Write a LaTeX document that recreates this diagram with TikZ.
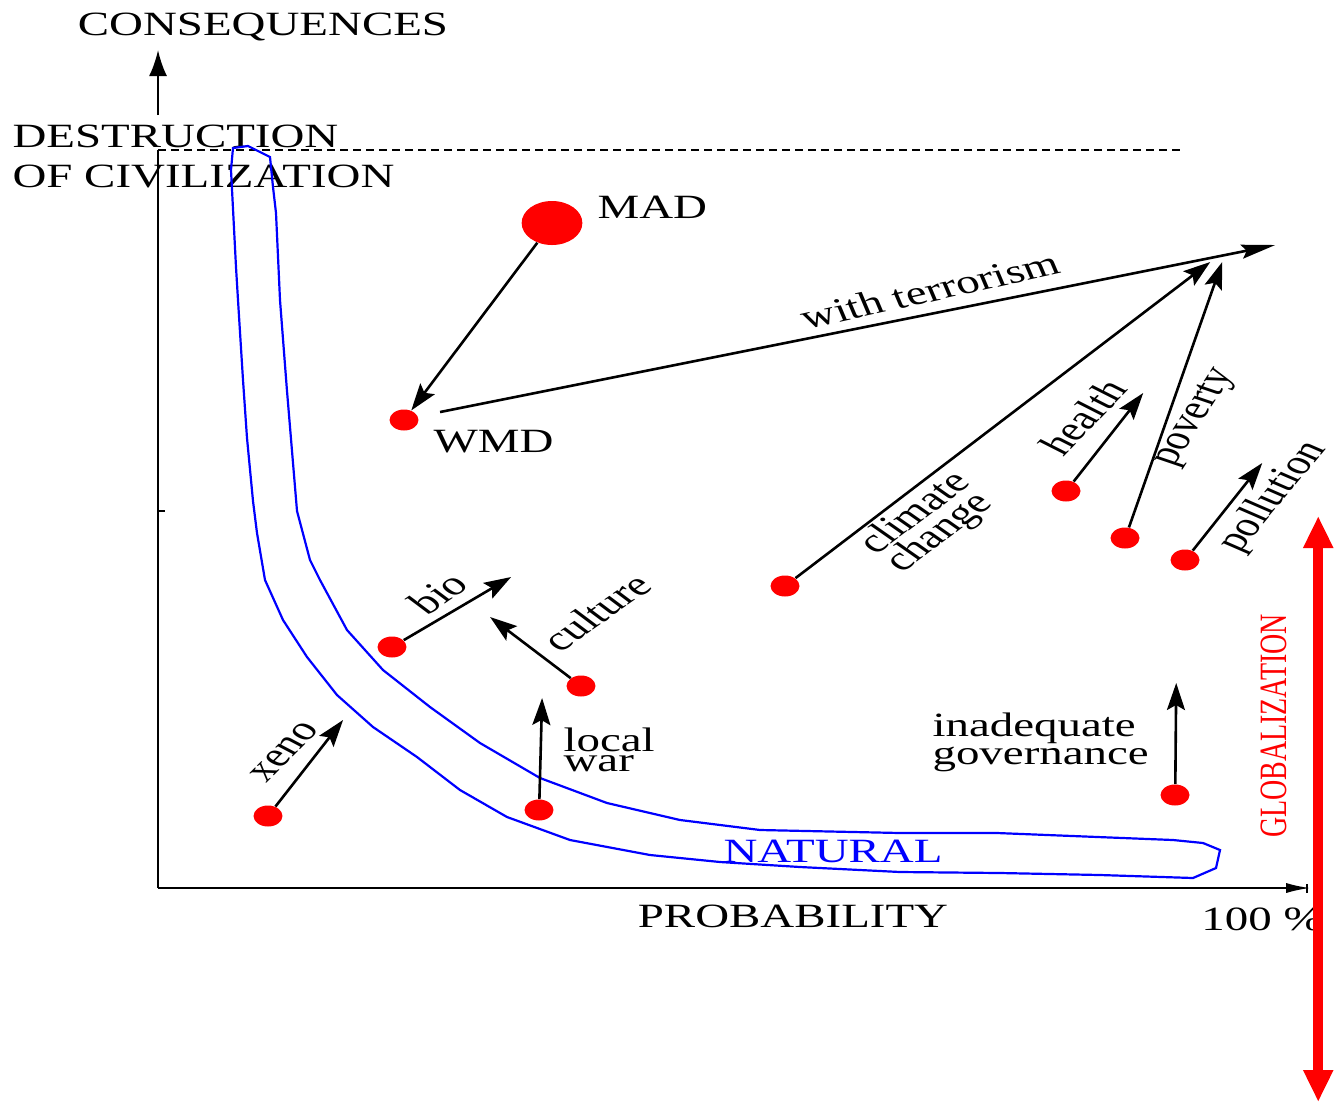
\documentclass[tikz,border=0pt]{standalone}
\usepackage{fontspec}
\setmainfont{Liberation Serif}
\usetikzlibrary{arrows.meta}

\tikzset{
  riskdot/.style={circle, fill=red, inner sep=0pt, minimum size=10.5pt, transform shape},
  bigdot/.style={riskdot, minimum size=22pt},
  txt/.style={inner sep=0pt, transform shape, font=\fontsize{17}{17}\selectfont},
  riskarrow/.style={-{Stealth[length=13.5pt,width=9pt,inset=2.5pt]}, line width=1.3pt},
}

\begin{document}
\begin{tikzpicture}[xscale=1.38, x=0.36232pt, y=-0.5pt]

    % Page of the same size as the reference (pixel units, y pointing down)
    \useasboundingbox (0,0) rectangle (1340,1105);

    % Corners and ends of the two axes
    \coordinate (O) at (158,888);
    \coordinate (ybreak) at (158,150);
    \coordinate (yarrow) at (158,115);
    \coordinate (ytop) at (158,50);
    \coordinate (xend) at (1310,888);

    % Draw the axes
    \draw[line width=1pt] (O) -- (ybreak);
    \draw[line width=1.2pt, -{Latex[length=13pt,width=9pt]}] (yarrow) -- (ytop);
    \draw[line width=1pt, -{Latex[length=12pt,width=5pt]}] (O) -- (xend);
    \draw[line width=0.6pt] (1307,884) -- (1307,893);
    \draw[line width=0.8pt] (158,511) -- (165,511);

    % Dashed level: destruction of civilization
    \draw[line width=0.8pt, dash pattern=on 4pt off 2.5pt] (ybreak) -- (1185,150);

    % Axis texts
    \node[txt, anchor=base] (conseq) at (263,35) {CONSEQUENCES};
    \node[txt, anchor=base west] (destr) at (12,147) {DESTRUCTION};
    \node[txt, anchor=base west] (civil) at (12,187) {OF CIVILIZATION};
    \node[txt, anchor=base] (prob) at (793,927) {PROBABILITY};
    \node[txt, anchor=base] (hundred) at (1262,930) {100 \%};

    % The band of natural risks
    \draw[blue, line width=1.1pt] (233,148) -- (231,170) -- (236,267) -- (238,300)
        -- (243,380) -- (247,438) -- (253,501) -- (257,533) -- (265,580)
        -- (283,620) -- (307,657) -- (337,695) -- (373,727) -- (417,757)
        -- (460,790) -- (507,817) -- (570,840) -- (650,855) -- (720,862)
        -- (800,867) -- (900,872) -- (1000,873) -- (1100,875) -- (1193,878)
        -- (1216,868) -- (1220,850) -- (1203,843) -- (1173,840) -- (997,833)
        -- (900,833) -- (760,830) -- (680,820) -- (607,803) -- (540,778)
        -- (480,743) -- (430,707) -- (383,670) -- (347,630) -- (320,580)
        -- (310,560) -- (297,511) -- (287,391) -- (280,300) -- (276,213)
        -- (273,187) -- (270,157) -- (248,146) -- cycle;
    \node[txt, blue, anchor=base] (natural) at (833,862) {NATURAL};

    % Globalization
    \coordinate (globtop) at (1318,516);
    \coordinate (globbot) at (1318,1102);
    \draw[red, line width=4.8pt, {Triangle[length=16pt,width=14pt]}-{Triangle[length=16pt,width=14pt]}] (globbot) -- (globtop);
    \node[txt, red, rotate=90, font=\fontsize{14}{14}\selectfont] (glob) at (1274,726) {GLOBALIZATION};

    % Risks (red dots)
    \node[bigdot] (mad) at (552,223) {};
    \node[riskdot] (wmd) at (404,420) {};
    \node[riskdot] (xeno) at (268,816) {};
    \node[riskdot] (bio) at (392,647) {};
    \node[riskdot] (culture) at (581,686) {};
    \node[riskdot] (localwar) at (539,810) {};
    \node[riskdot] (climate) at (785,586) {};
    \node[riskdot] (health) at (1066,491) {};
    \node[riskdot] (poverty) at (1125,538) {};
    \node[riskdot] (pollution) at (1185,560) {};
    \node[riskdot] (governance) at (1175,795) {};

    % Free ends of the arrows
    \coordinate (terr0) at (440,412);
    \coordinate (terr1) at (1275,245);
    \coordinate (climate1) at (1210,262);
    \coordinate (health1) at (1143,393);
    \coordinate (poverty1) at (1222,262);
    \coordinate (pollution1) at (1262,463);
    \coordinate (bio1) at (511,577);
    \coordinate (culture1) at (490,617);
    \coordinate (xeno1) at (343,720);
    \coordinate (localwar1) at (542,698);
    \coordinate (governance1) at (1176,683);

    % Arrows: where each risk moves
    \draw[riskarrow] (mad) -- (wmd);
    \draw[riskarrow, -{Stealth[length=17pt,width=7pt,inset=2.5pt]}] (terr0) -- (terr1);
    \draw[riskarrow] (climate) -- (climate1);
    \draw[riskarrow] (health) -- (health1);
    \draw[riskarrow] (poverty) -- (poverty1);
    \draw[riskarrow] (pollution) -- (pollution1);
    \draw[riskarrow] (bio) -- (bio1);
    \draw[riskarrow] (culture) -- (culture1);
    \draw[riskarrow] (xeno) -- (xeno1);
    \draw[riskarrow] (localwar) -- (localwar1);
    \draw[riskarrow] (governance) -- (governance1);

    % Labels of the risks
    \node[txt, anchor=base west] (madlbl) at (597,218) {MAD};
    \node[txt, anchor=base west] (wmdlbl) at (433,452) {WMD};
    \node[txt, rotate=17] (terrlbl) at (930,290) {with terrorism};
    \node[txt, rotate=46, align=left, font=\fontsize{17}{13}\selectfont] (climatelbl) at (929,523) {climate\\change};
    \node[txt, rotate=55] (healthlbl) at (1083,417) {health};
    \node[txt, rotate=65] (povertylbl) at (1196,418) {poverty};
    \node[txt, rotate=59] (pollutionlbl) at (1273,497) {pollution};
    \node[txt, rotate=44] (biolbl) at (438,593) {bio};
    \node[txt, rotate=44] (culturelbl) at (596,612) {culture};
    \node[txt, rotate=54] (xenolbl) at (285,752) {xeno};
    \node[txt, anchor=base west, align=left, font=\fontsize{17}{10}\selectfont] (localwarlbl) at (563,771) {local\\war};
    \node[txt, anchor=base west, align=left, font=\fontsize{17}{14}\selectfont] (governancelbl) at (932,764) {inadequate\\governance};

\end{tikzpicture}
\end{document}
